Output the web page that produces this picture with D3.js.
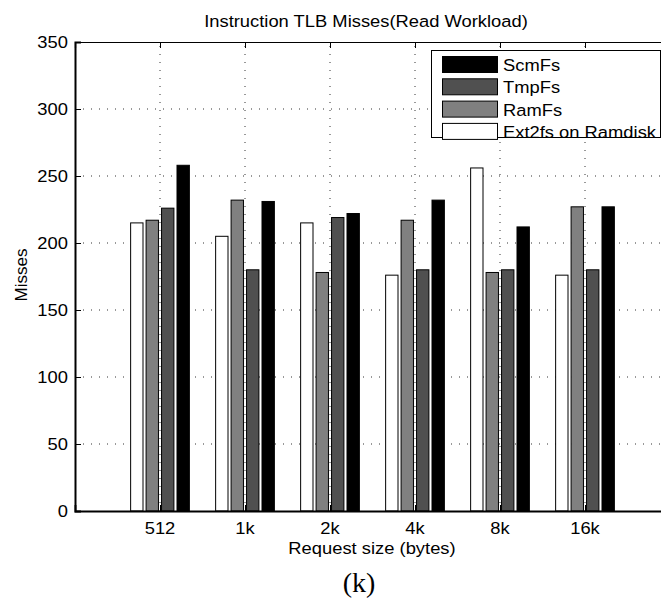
<!DOCTYPE html>
<html><head><meta charset="utf-8">
<script src="https://cdn.jsdelivr.net/npm/d3@7"></script>
<style>body{margin:0;background:#fff}svg{display:block}</style>
</head><body>
<script>
const categories = ["512","1k","2k","4k","8k","16k"];
const seriesNames = ["Ext2fs on Ramdisk","RamFs","TmpFs","ScmFs"];
const ext2fs = [215,205,215,176,256,176];
const ramfs  = [217,232,178,217,178,227];
const tmpfs  = [226,180,219,180,180,180];
const scmfs  = [258,231,222,232,212,227];
const yTicks = [0,50,100,150,200,250,300,350];
const colors = ["#ffffff","#808080","#505050","#000000"];
const legendOrder = [3,2,1,0];
const series = [ext2fs, ramfs, tmpfs, scmfs];

const W=661,H=600;
const svg=d3.select("body").append("svg").attr("width",W).attr("height",H);
const font="'Liberation Sans', Arial, Helvetica, sans-serif";
const FS=17, SX=1.08;

function label(parent,x0,y0,txt,anchor,size){
  return parent.append("text")
    .attr("transform",`translate(${x0},${y0}) scale(${SX},1)`)
    .attr("text-anchor",anchor||"start")
    .attr("font-family",font).attr("font-size",size||FS).attr("fill","#000").text(txt);
}

const x=d3.scaleLinear().domain([0,7]).range([75,670]);
const y=d3.scaleLinear().domain([0,350]).range([511,42]);

// grid
const g=svg.append("g");
g.selectAll("line.hg").data(yTicks.filter(d=>d>0&&d<350)).enter().append("line")
  .attr("x1",x(0)).attr("x2",x(7)).attr("y1",d=>y(d)).attr("y2",d=>y(d))
  .attr("stroke","#333").attr("stroke-width",1).attr("stroke-dasharray","1,7");
g.selectAll("line.vg").data(categories).enter().append("line")
  .attr("x1",(d,i)=>x(i+1)).attr("x2",(d,i)=>x(i+1)).attr("y1",y(0)).attr("y2",y(350))
  .attr("stroke","#333").attr("stroke-width",1).attr("stroke-dasharray","1,7");

// bars
const n=series.length;
const groupW=n/(n+1.5), step=groupW/n, bw=step*0.8;
series.forEach((vals,j)=>{
  svg.append("g").selectAll("rect").data(vals).enter().append("rect")
    .attr("x",(d,i)=>x(i+1-groupW/2+step*j+(step-bw)/2))
    .attr("width",x(bw)-x(0))
    .attr("y",d=>y(d)).attr("height",d=>y(0)-y(d))
    .attr("fill",colors[j]).attr("stroke","#000").attr("stroke-width",1);
});

// y axis
const yAxis=d3.axisLeft(y).tickValues(yTicks).tickSize(-6).tickFormat("");
const ya=svg.append("g").attr("transform",`translate(${x(0)},0)`).call(yAxis);
ya.select(".domain").attr("stroke","#000").attr("stroke-width",2);
ya.selectAll(".tick line").attr("stroke","#000");
yTicks.forEach(d=>{ label(svg,68,y(d)+6,String(d),"end"); });

// x axis (bottom & top lines with inner ticks)
const xAxisB=d3.axisBottom(x).tickValues(d3.range(1,categories.length+1)).tickSize(-6).tickFormat("");
const xb=svg.append("g").attr("transform",`translate(0,${y(0)})`).call(xAxisB);
xb.select(".domain").attr("stroke","#000").attr("stroke-width",1.8);
const xAxisT=d3.axisTop(x).tickValues(d3.range(1,categories.length+1)).tickSize(-6).tickFormat("");
const xt=svg.append("g").attr("transform",`translate(0,${y(350)})`).call(xAxisT);
xt.select(".domain").attr("stroke","#000").attr("stroke-width",1.2);
categories.forEach((c,i)=>{ label(svg,x(i+1),533.5,c,"middle"); });

label(svg,372,554,"Request size (bytes)","middle");
svg.append("text").attr("x",359).attr("y",592).attr("text-anchor","middle")
  .attr("font-family","'Liberation Serif', 'DejaVu Serif', serif").attr("font-size",28).text("(k)");
svg.append("text").attr("transform","translate(27,275) rotate(-90)").attr("text-anchor","middle")
  .attr("font-family",font).attr("font-size",FS).text("Misses");
label(svg,366,27,"Instruction TLB Misses(Read Workload)","middle");

// legend
const lg=svg.append("g");
lg.append("rect").attr("x",431.5).attr("y",50.5).attr("width",229).attr("height",87)
  .attr("fill","#fff").attr("stroke","#000").attr("stroke-width",1);
legendOrder.forEach((si,k)=>{
  const yy=56.5+k*22.3;
  lg.append("rect").attr("x",442.5).attr("y",yy).attr("width",55).attr("height",16)
    .attr("fill",colors[si]).attr("stroke","#000").attr("stroke-width",1);
  label(lg,503,yy+14.5,seriesNames[si],"start");
});
</script>
</body></html>
